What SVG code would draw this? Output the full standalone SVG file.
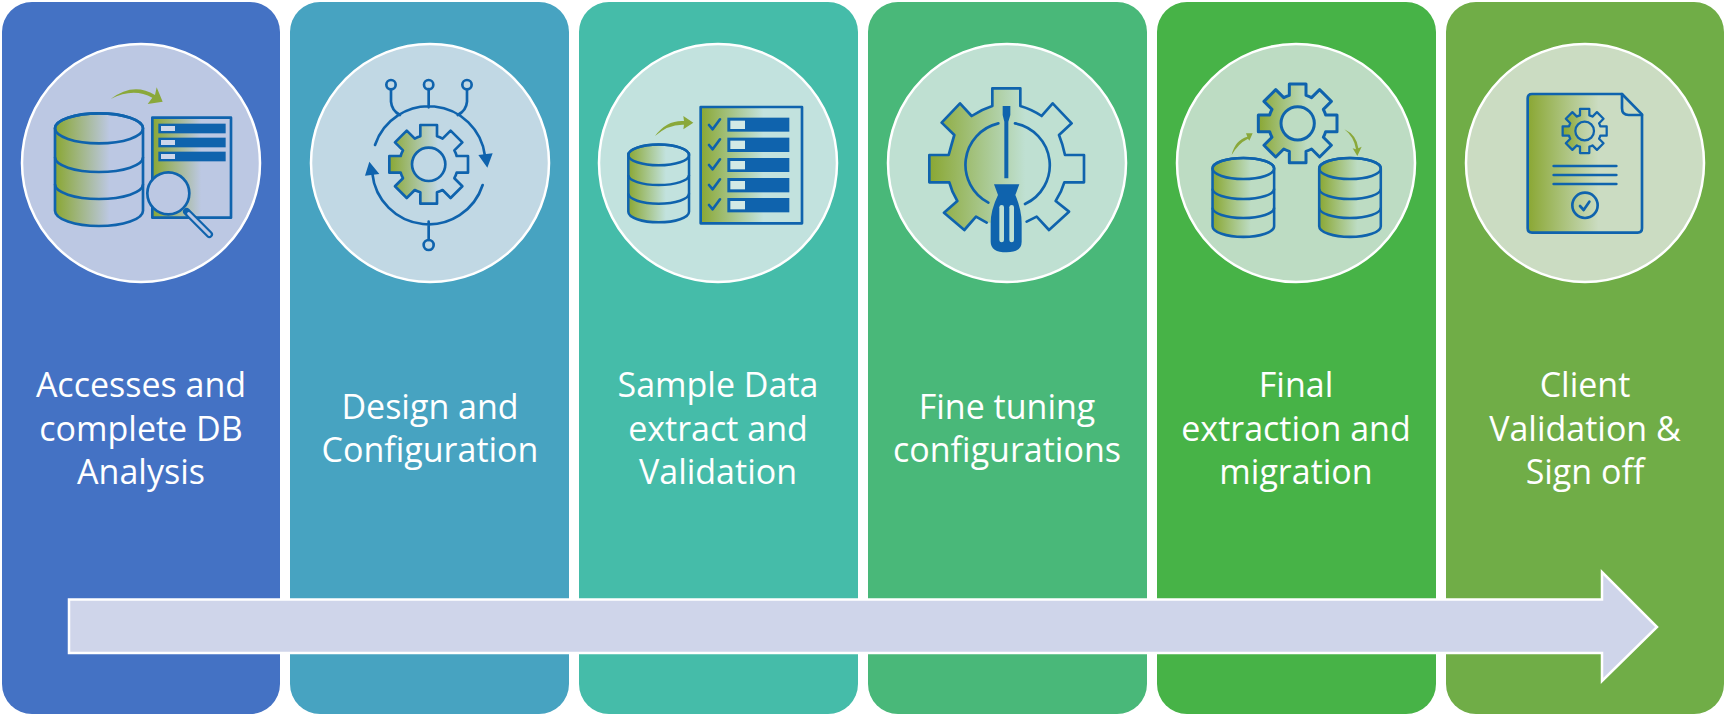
<svg xmlns="http://www.w3.org/2000/svg" xmlns:xlink="http://www.w3.org/1999/xlink" width="1726" height="716" viewBox="0 0 1726 716">
<style>
.panel{stroke:none}
.disc{stroke:#fff;stroke-width:2.500}
.label{font-family:"Open Sans","Liberation Sans",sans-serif;font-size:34px;fill:#fff;text-anchor:middle}
.ln{fill:none;stroke:#0f63ad;stroke-width:8;stroke-linecap:round;stroke-linejoin:round}
.sw{stroke:#0f63ad;stroke-width:8;stroke-linejoin:round}
.fg{fill:url(#fade);stroke:#0f63ad;stroke-width:8;stroke-linejoin:round}
.solid{fill:#0f63ad}
.green{fill:#8aa83a}
</style>
<defs>
<linearGradient id="fade" x1="0" y1="0" x2="1" y2="0"><stop offset="0" stop-color="#8aa733"/><stop offset="0.62" stop-color="#8aa733" stop-opacity="0"/></linearGradient>
<g id="cyl" fill="none" stroke="#0f63ad" stroke-linejoin="round">
<path fill="url(#fade)" d="M-132 -125V122A132 46 0 0 0 132 122V-125A132 45 0 0 0 -132 -125Z"/>
<ellipse cx="0" cy="-125" rx="132" ry="45"/>
<path d="M-132 -38A132 44 0 0 0 132 -38M-132 43A132 44 0 0 0 132 43"/>
</g>
<path id="gear" fill="url(#fade)" fill-rule="evenodd" stroke="#0f63ad" stroke-linejoin="round" d="M84 -25L118 -25L118 25L84 25A88 88 0 0 1 77.1 41.7L101.1 65.8L65.8 101.1L41.7 77.1A88 88 0 0 1 25 84L25 118L-25 118L-25 84A88 88 0 0 1 -41.7 77.1L-65.8 101.1L-101.1 65.8L-77.1 41.7A88 88 0 0 1 -84 25L-118 25L-118 -25L-84 -25A88 88 0 0 1 -77.1 -41.7L-101.1 -65.8L-65.8 -101.1L-41.7 -77.1A88 88 0 0 1 -25 -84L-25 -118L25 -118L25 -84A88 88 0 0 1 41.7 -77.1L65.8 -101.1L101.1 -65.8L77.1 -41.7A88 88 0 0 1 84 -25ZM50 0A50 50 0 1 0 -50 0A50 50 0 1 0 50 0Z"/>
</defs>
<rect width="1726" height="716" fill="#fff"/>

<g id="step1">
<rect class="panel" x="2" y="2" width="278" height="712" rx="30" fill="#4472c4"/>
<circle class="disc" cx="141" cy="163" r="119" fill="#bcc8e3"/>
<g transform="scale(.33333)">
<path class="green" d="M332 297Q400 245 465 285L470 262L488 305L443 312L457 293Q400 262 332 297Z"/>
<use href="#cyl" transform="translate(297 510)" stroke-width="8"/>
<rect class="fg" x="457" y="353" width="236" height="300"/>
<g class="solid"><rect x="475" y="371" width="202" height="29"/><rect x="475" y="413" width="202" height="29"/><rect x="475" y="455" width="202" height="29"/></g>
<g fill="#cdd6ea"><rect x="483" y="378" width="42" height="15"/><rect x="483" y="420" width="42" height="15"/><rect x="483" y="462" width="42" height="15"/></g>
<path d="M560 635L628 703" fill="none" stroke="#0f63ad" stroke-width="22" stroke-linecap="round"/>
<path d="M566 641L628 703" fill="none" stroke="#bcc8e3" stroke-width="9" stroke-linecap="round"/>
<circle class="sw" cx="505" cy="580" r="63" fill="#bcc8e3"/>
</g>
<text class="label" x="141" y="397">Accesses and</text>
<text class="label" x="141" y="440.500">complete DB</text>
<text class="label" x="141" y="484">Analysis</text>
</g>

<g id="step2">
<rect class="panel" x="290" y="2" width="279" height="712" rx="30" fill="#47a3c1"/>
<circle class="disc" cx="430" cy="163" r="119" fill="#c1d8e4"/>
<g transform="translate(290 20) scale(.33333)">
<use href="#gear" transform="translate(416 433)" stroke-width="8"/>
<path class="ln" d="M255 375A170 170 0 0 1 585 408M578 495A170 170 0 0 1 247 460M416 207V262M303 208V245Q305 272 330 285M531 208V245Q529 272 503 285M416 605V660"/>
<g fill="none" class="ln"><circle cx="303" cy="194" r="14"/><circle cx="416" cy="194" r="14"/><circle cx="531" cy="194" r="14"/><circle cx="416" cy="675" r="15"/></g>
<path class="solid" d="M565 405L608 400L592 443ZM225 467L268 462L238 425Z"/>
</g>
<text class="label" x="430" y="419">Design and</text>
<text class="label" x="430" y="462">Configuration</text>
</g>

<g id="step3">
<rect class="panel" x="579" y="2" width="279" height="712" rx="30" fill="#45bca9"/>
<circle class="disc" cx="718" cy="163" r="119" fill="#c2e2de"/>
<g transform="translate(580 20) scale(.33333)">
<path class="green" d="M225 348Q260 300 312 303L310 288L340 308L310 328L312 314Q265 312 225 348Z"/>
<use href="#cyl" transform="translate(236 491) scale(.69)" stroke-width="11"/>
<rect class="fg" x="362" y="261" width="304" height="349"/>
<g class="solid"><rect x="442" y="293" width="186" height="42"/><rect x="442" y="353" width="186" height="43"/><rect x="442" y="414" width="186" height="42"/><rect x="442" y="474" width="186" height="43"/><rect x="442" y="534" width="186" height="43"/></g>
<g fill="#d3e9e6"><rect x="451" y="302" width="44" height="25"/><rect x="451" y="362" width="44" height="25"/><rect x="451" y="423" width="44" height="25"/><rect x="451" y="483" width="44" height="25"/><rect x="451" y="543" width="44" height="25"/></g>
<path class="ln" d="M387 315L398 328L420 298M387 375L398 388L420 358M387 435L398 448L420 418M387 495L398 508L420 478M387 555L398 568L420 538"/>
</g>
<text class="label" x="718" y="397">Sample Data</text>
<text class="label" x="718" y="440.500">extract and</text>
<text class="label" x="718" y="484">Validation</text>
</g>

<g id="step4">
<rect class="panel" x="868" y="2" width="279" height="712" rx="30" fill="#49b879"/>
<circle class="disc" cx="1007" cy="163" r="119" fill="#bfe0d2"/>
<g transform="translate(870 20) scale(.33333)">
<path class="fg" stroke-linecap="round" d="M350 608L318 590L283 630L222 578L262 543Q245 515 238 487L178 487L178 405L236 405Q245 372 253 345L215 308L270 250L305 288Q335 268 367 258L367 205L451 205L451 258Q485 268 515 288L548 250L605 310L567 345Q578 372 585 405L642 405L642 487L583 487Q575 515 557 543L597 575L537 630L500 590L470 605"/>
<path class="ln" d="M385 310A128 128 0 0 0 355 548M435 310A128 128 0 0 1 465 552"/>
<path class="solid" d="M398 258H421V285L415 305V475H403V305L398 285ZM372 493H448L436 525Q455 570 455 610V665Q455 697 410 697Q362 697 362 665V610Q362 570 384 525Z"/>
<g fill="#bfe0d2"><rect x="388" y="555" width="14" height="112" rx="7"/><rect x="418" y="555" width="14" height="112" rx="7"/></g>
</g>
<text class="label" x="1007" y="419">Fine tuning</text>
<text class="label" x="1007" y="462">configurations</text>
</g>

<g id="step5">
<rect class="panel" x="1157" y="2" width="279" height="712" rx="30" fill="#47b347"/>
<circle class="disc" cx="1296" cy="163" r="119" fill="#bddcc3"/>
<g transform="translate(1160 20) scale(.33333)">
<path class="green" d="M215 405Q225 360 262 350L258 340L278 340L268 362L264 356Q235 370 215 405ZM553 328Q590 345 595 385L605 380L592 408L578 385L588 388Q582 350 553 328Z"/>
<use href="#gear" transform="translate(413 310)" stroke-width="9"/>
<use href="#cyl" transform="translate(250 533) scale(.7)" stroke-width="11"/>
<use href="#cyl" transform="translate(570 533) scale(.7)" stroke-width="11"/>
</g>
<text class="label" x="1296" y="397">Final</text>
<text class="label" x="1296" y="440.500">extraction and</text>
<text class="label" x="1296" y="484">migration</text>
</g>

<g id="step6">
<rect class="panel" x="1446" y="2" width="278" height="712" rx="30" fill="#70ad47"/>
<circle class="disc" cx="1585" cy="163" r="119" fill="#cbdcc2"/>
<g transform="translate(1446 20) scale(.33333)">
<path class="fg" d="M528 222H258Q245 222 245 235V625Q245 638 258 638H575Q588 638 588 625V283Z"/>
<path class="ln" d="M528 222V265Q528 285 548 285H588"/>
<use href="#gear" transform="translate(416 333) scale(.56)" stroke-width="12"/>
<path class="ln" d="M323 438H511M323 465H511M323 492H511M402 558L413 570L430 545"/>
<circle class="ln" cx="417" cy="556" r="38"/>
</g>
<text class="label" x="1585" y="397">Client</text>
<text class="label" x="1585" y="440.500">Validation &amp;</text>
<text class="label" x="1585" y="484">Sign off</text>
</g>

<g id="connectors">
<path d="M69 599.500H1602V572L1657 627L1602 681V653H69Z" fill="#cfd5ea" stroke="#fff" stroke-width="2.500"/>
</g>
</svg>
